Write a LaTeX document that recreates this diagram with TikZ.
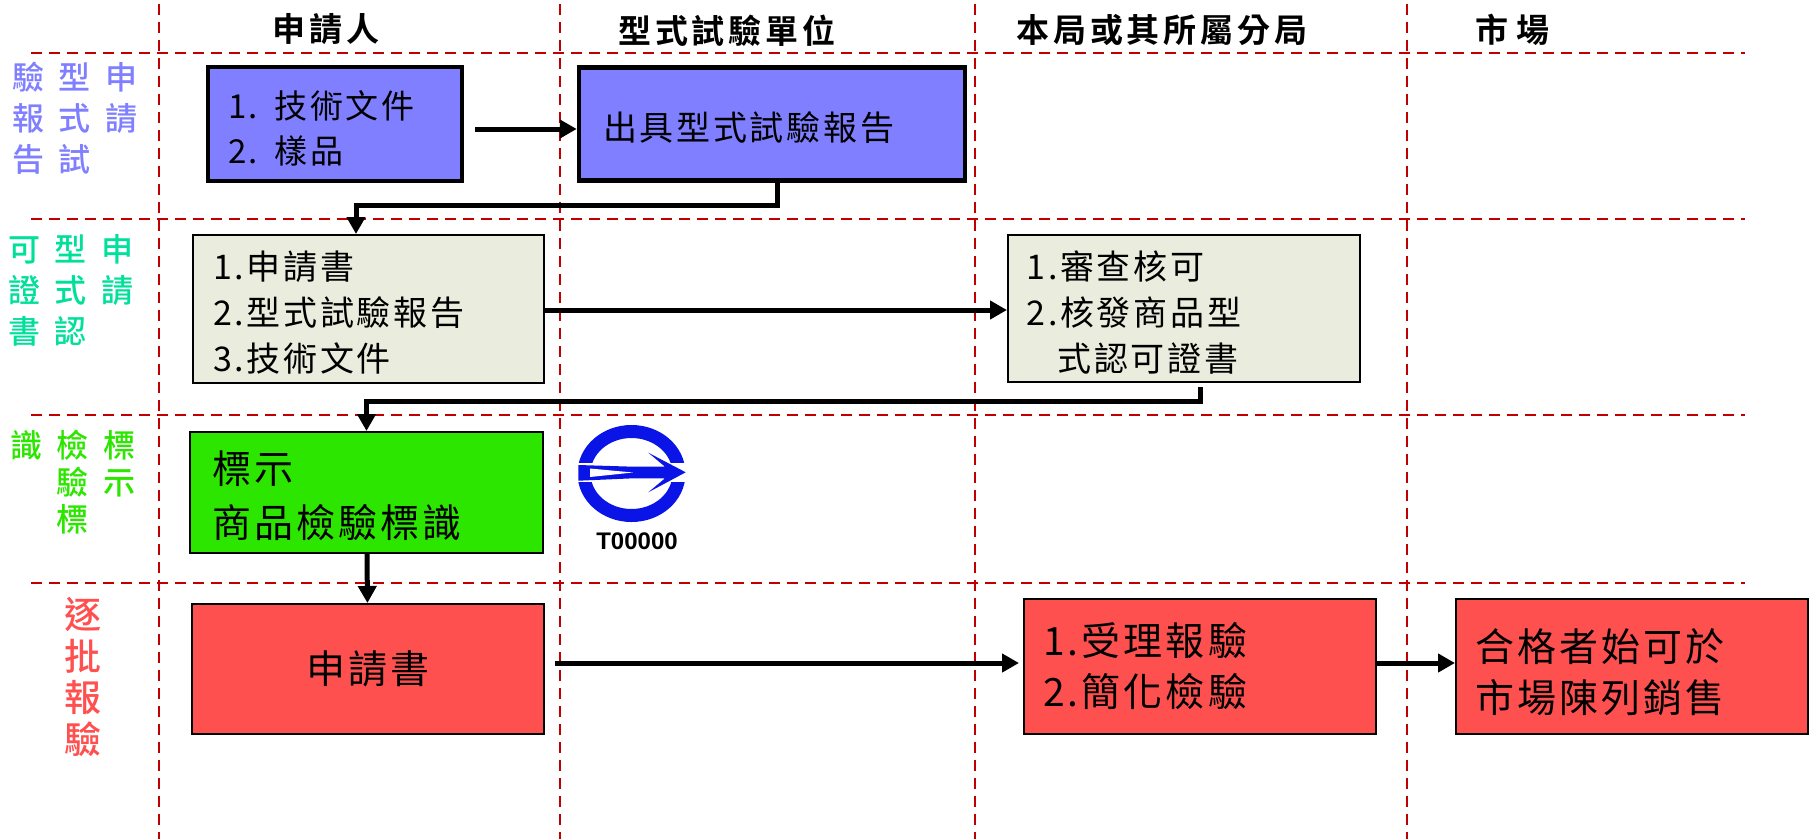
\documentclass[tikz,border=0pt]{standalone}
\usepackage{fontspec}
\setmainfont{Liberation Sans}
\newfontfamily\cjk[LetterSpace=8]{Noto Sans CJK TC}
\newfontfamily\cjkwide[LetterSpace=44]{Noto Sans CJK TC Medium}
\newfontfamily\cjktall{Noto Sans CJK TC Medium}
\newfontfamily\cjkbold[LetterSpace=12]{Noto Sans CJK TC Bold}
\usetikzlibrary{arrows.meta}
\usetikzlibrary{positioning}
\definecolor{gridred}{HTML}{C00000}
\definecolor{stepblue}{HTML}{7F7FFF}
\definecolor{stepteal}{HTML}{00E09A}
\definecolor{stepgreen}{HTML}{2CE600}
\definecolor{stepred}{HTML}{FF5050}
\definecolor{stepcream}{HTML}{EAEDDD}
\definecolor{markblue}{HTML}{0A14E6}

\begin{document}
\begin{tikzpicture}[x=1pt,y=-1pt]
            \tikzset{>={Stealth[black,inset=0pt,length=17pt,width=18pt]},
                    every edge/.style={draw=black,line width=5pt},
                    gridline/.style={draw=gridred,line width=2.2pt,dash pattern=on 11pt off 7pt},
                    stepbox/.style={draw=black,line width=2pt,align=left,inner xsep=0pt,inner ysep=0pt,
                        font=\cjk\fontsize{34}{46}\selectfont},
                    bigtext/.style={font=\cjk\fontsize{39}{54}\selectfont},
                    lowtext/.style={execute at begin node=\rule{0pt}{#1}},
                    heavybox/.style={stepbox,lowtext=36pt,line width=4.5pt,fill=stepblue},
                    creambox/.style={stepbox,lowtext=36pt,fill=stepcream},
                    greenbox/.style={stepbox,lowtext=40pt,bigtext,fill=stepgreen},
                    redbox/.style={stepbox,bigtext,fill=stepred},
                    sidelabel/.style={align=left,inner sep=0pt,font=\cjkwide\fontsize{32}{41}\selectfont},
                    headlabel/.style={inner sep=0pt,font=\cjkbold\fontsize{33}{36}\selectfont}}
            \useasboundingbox (0,0) rectangle (1810,839);
            % grid
            \foreach \gx in {159,560,975,1407}
                \draw [gridline] (\gx,4) -- (\gx,839);
            \foreach \gy in {53,219,415,583}
                \draw [gridline,line width=2.8pt] (31,\gy) -- (1745,\gy);
            % column titles
            \node[headlabel] (head1) at (326,29) {申請人};
            \node[headlabel] (head2) at (727,31) {型式試驗單位};
            \node[headlabel] (head3) at (1162,30) {本局或其所屬分局};
            \node[headlabel] (head4) at (1512,30) {市\hspace{8pt}場};
            % row titles
            \node[sidelabel,text=stepblue] (row1) at (75,118) {驗型申\\報式請\\告試　};
            \node[sidelabel,text=stepteal] (row2) at (71,290) {可型申\\證式請\\書認　};
            \node[sidelabel,text=stepgreen,font=\cjkwide\fontsize{32}{37}\selectfont] (row3) at (73,482) {識檢標\\　驗示\\　標　};
            \node[sidelabel,text=stepred,font=\cjktall\fontsize{37}{41.7}\selectfont] (row4) at (83,677) {逐\\批\\報\\驗};
            % boxes
            \node[heavybox,font=\cjk\fontsize{33}{45}\selectfont,minimum width=254pt,minimum height=114pt,text width=214pt] (doc) at (335,124) {1. 技術文件\\2. 樣品};
            \node[heavybox,minimum width=386pt,minimum height=113pt,text width=338pt] (report) at (772,124) {出具型式試驗報告};
            \node[creambox,minimum width=351pt,minimum height=148pt,text width=311pt] (apply) at (368.5,309) {1.申請書\\2.型式試驗報告\\3.技術文件};
            \node[creambox,minimum width=352pt,minimum height=147pt,text width=315pt] (approve) at (1184,308.5) {1.審查核可\\2.核發商品型\\\hspace*{31pt}式認可證書};
            \node[greenbox,minimum width=353pt,minimum height=121pt,text width=309pt] (mark) at (366.5,492.5) {標示\\商品檢驗標識};
            \node[redbox,minimum width=352pt,minimum height=130pt,align=center] (form) at (368,669) {申請書};
            \node[redbox,minimum width=352pt,minimum height=135pt,text width=314pt] (check) at (1200,666.5) {1.受理報驗\\[-3pt]2.簡化檢驗};
            \node[redbox,lowtext=44pt,minimum width=352pt,minimum height=135pt,text width=314pt] (market) at (1632,666.5) {合格者始可於\\[-3pt]市場陳列銷售};
            % mark
            \draw [markblue,line width=13pt] (631.5,473.5) ellipse [x radius=47.5pt,y radius=42pt];
            \fill [white] (570,463.3) -- (694,463.3) -- (694,481.7) -- (570,481.7) -- cycle;
            \fill [markblue] (578.3,465) -- (633.3,466.7) -- (665,466.7) -- (648.3,452.7) -- (685.7,472.3) -- (648.3,492.3) -- (665,478.3) -- (633.3,478.3) -- (578.3,480.7) -- cycle;
            \fill [white] (590,468.5) -- (633,472.5) -- (590,477) -- cycle;
            \node[inner sep=0pt,font=\bfseries\fontsize{24}{26}\selectfont] (code) at (637,541) {T00000};
            % flow
            \coordinate (docout) at (475,129);
            \coordinate (formout) at (555,663);
            \path [->] (docout) edge node {} (report.west |- docout);
            \draw [->,line width=5pt] ([xshift=5pt]report.south) |- (356,205) -- ([xshift=-12.5pt]apply.north);
            \path [->] (apply.east |- 0,310) edge node {} (approve.west |- 0,310);
            \draw [->,line width=5pt] ([xshift=16pt,yshift=-4pt]approve.south) |- (mark.north |- 0,401) -- (mark.north);
            \path [->] (mark) edge node {} (form);
            \path [->] (formout) edge node {} ([xshift=-4pt]check.west |- formout);
            \path [->] (check.east |- formout) edge node {} (market.west |- formout);
        \end{tikzpicture}
\end{document}
